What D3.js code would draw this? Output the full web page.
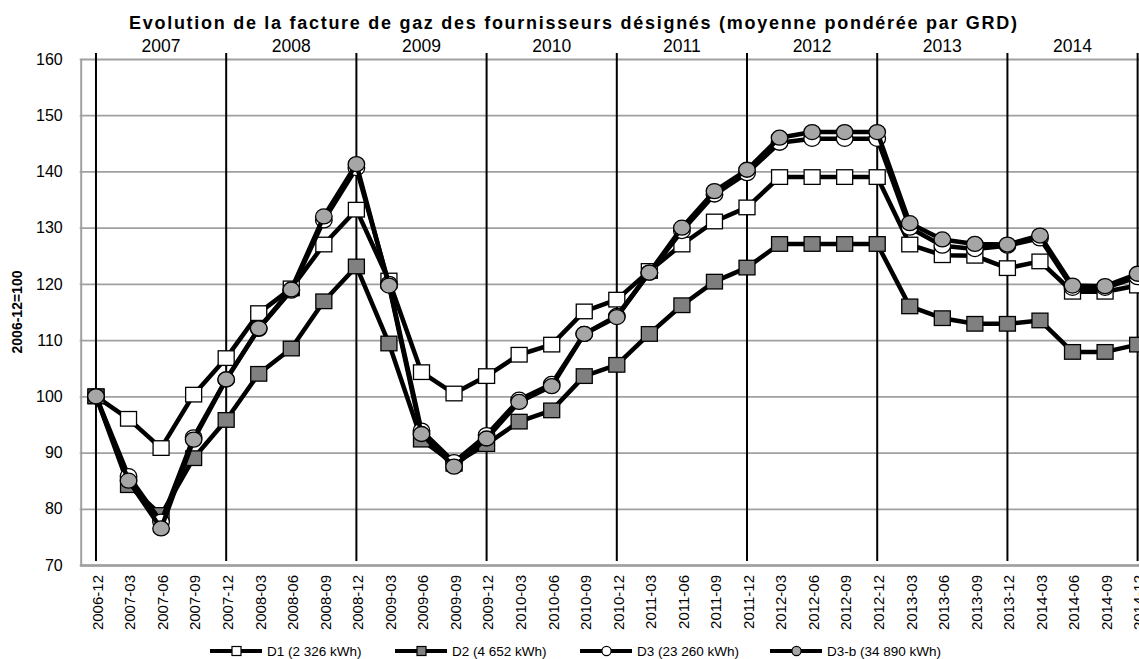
<!DOCTYPE html>
<html>
<head>
<meta charset="utf-8">
<script src="https://cdn.jsdelivr.net/npm/d3@7"></script>
<style>
  body { margin: 0; background: #fff; }
  svg { display: block; font-family: "Liberation Sans", Arial, sans-serif; }
</style>
</head>
<body>
<div id="chart"></div>
<script>
const quarters = ["2006-12",
  "2007-03","2007-06","2007-09","2007-12",
  "2008-03","2008-06","2008-09","2008-12",
  "2009-03","2009-06","2009-09","2009-12",
  "2010-03","2010-06","2010-09","2010-12",
  "2011-03","2011-06","2011-09","2011-12",
  "2012-03","2012-06","2012-09","2012-12",
  "2013-03","2013-06","2013-09","2013-12",
  "2014-03","2014-06","2014-09","2014-12"]
const years = ["2007","2008","2009","2010","2011","2012","2013","2014"]
const yTicks = [70, 80, 90, 100, 110, 120, 130, 140, 150, 160]

const d1  = [100, 96, 90.8, 100.3, 106.8, 114.8, 119.2, 127, 133.2, 120.6, 104.3, 100.5, 103.6, 107.4, 109.2, 115.1, 117.2,
             122.3, 127, 131.1, 133.6, 139, 139, 139, 139, 127, 125.1, 125, 122.8, 124, 118.6, 118.6, 119.7]
const d2  = [100, 84.2, 78.9, 89, 95.8, 104, 108.5, 116.9, 123.1, 109.4, 92.3, 88, 91.5, 95.5, 97.5, 103.6, 105.6,
             111.1, 116.2, 120.4, 122.9, 127.1, 127.1, 127.1, 127.1, 116, 113.9, 112.9, 112.9, 113.5, 107.9, 107.9, 109.2]
const d3v = [100, 85.8, 77.7, 92.7, 103, 112, 118.8, 131.3, 140.6, 120, 93.9, 88.3, 93.1, 99.4, 102.2, 111.1, 114.3,
             122, 129.4, 135.9, 139.7, 145.1, 145.8, 145.8, 145.8, 130, 126.8, 126.2, 126.8, 128.1, 119.3, 119.3, 121.2]
const d3b = [100, 85, 76.5, 92.3, 103, 112.1, 119, 132, 141.3, 119.7, 93.3, 87.5, 92.5, 99, 101.8, 111.1, 114.1,
             122, 130, 136.5, 140.3, 146, 147, 147, 147, 130.8, 127.9, 127.1, 127, 128.6, 119.7, 119.6, 121.8]

const seriesNames = ["D1 (2 326 kWh)", "D2 (4 652 kWh)", "D3 (23 260 kWh)", "D3-b (34 890 kWh)"]
const seriesValues = [d1, d2, d3v, d3b]
const markerShape = ["square", "square", "circle", "circle"]
const markerFill = ["#ffffff", "#808080", "#ffffff", "#a6a6a6"]

const width = 1139, height = 659
const plot = { left: 79.7, right: 1153.9, top: 59, bottom: 565 }

const svg = d3.select("#chart").append("svg")
  .attr("width", width).attr("height", height)

const x = d3.scalePoint().domain(quarters).range([plot.left, plot.right]).padding(0.5)
const y = d3.scaleLinear().domain([70, 160]).range([plot.bottom, plot.top])

// gridlines
svg.append("g")
  .attr("transform", `translate(${plot.left},0)`)
  .call(d3.axisLeft(y).tickValues(yTicks).tickSize(-(plot.right - plot.left)).tickFormat(""))
  .call(g => g.select(".domain").remove())
  .selectAll("line").attr("stroke", "#a0a0a0").attr("stroke-width", 1.8)

// left axis line + labels
svg.append("g")
  .attr("transform", `translate(${plot.left + 1},0)`)
  .call(d3.axisLeft(y).tickValues(yTicks).tickSize(0).tickPadding(18))
  .call(g => g.select(".domain").attr("stroke", "#a0a0a0").attr("stroke-width", 2))
  .selectAll("text").attr("font-size", 16).attr("fill", "#000")

// bottom axis
svg.append("g")
  .attr("transform", `translate(0,${plot.bottom})`)
  .call(d3.axisBottom(x).tickSize(0))
  .call(g => g.select(".domain").attr("stroke", "#a0a0a0").attr("stroke-width", 2.5))
  .selectAll("text")
  .attr("font-size", 15).attr("fill", "#000")
  .attr("transform", "rotate(-90)")
  .attr("text-anchor", "end")
  .attr("x", -10).attr("y", 0).attr("dy", "0.42em")

// year separators (every December)
const decembers = quarters.filter(q => q.endsWith("-12"))
svg.append("g").selectAll("line").data(decembers).join("line")
  .attr("x1", d => x(d)).attr("x2", d => x(d))
  .attr("y1", y(160) - 6).attr("y2", y(70) - 4)
  .attr("stroke", "#000").attr("stroke-width", 2)

svg.append("g").selectAll("text").data(years).join("text")
  .attr("x", d => (x((+d - 1) + "-12") + x(d + "-12")) / 2)
  .attr("y", 52)
  .attr("text-anchor", "middle")
  .attr("font-size", 17.5)
  .text(d => d)

// series
const line = d3.line().x((d, i) => x(quarters[i])).y(d => y(d))
seriesValues.forEach((vals, s) => {
  const g = svg.append("g")
  g.append("path").datum(vals)
    .attr("d", line).attr("fill", "none")
    .attr("stroke", "#000").attr("stroke-width", 4.5).attr("stroke-linejoin", "round")
  if (markerShape[s] === "square") {
    g.selectAll("rect").data(vals).join("rect")
      .attr("x", (d, i) => x(quarters[i]) - 8).attr("y", d => y(d) - 7.3)
      .attr("width", 16).attr("height", 14.6)
      .attr("fill", markerFill[s]).attr("stroke", "#000").attr("stroke-width", 1.3)
  } else {
    g.selectAll("ellipse").data(vals).join("ellipse")
      .attr("cx", (d, i) => x(quarters[i])).attr("cy", d => y(d))
      .attr("rx", 8.3).attr("ry", 7.5)
      .attr("fill", markerFill[s]).attr("stroke", "#000").attr("stroke-width", 1.3)
  }
})

// title
svg.append("text")
  .attr("x", 573).attr("y", 29)
  .attr("text-anchor", "middle")
  .attr("font-size", 18).attr("font-weight", "bold")
  .attr("textLength", 888).attr("lengthAdjust", "spacing")
  .text("Evolution de la facture de gaz des fournisseurs désignés (moyenne pondérée par GRD)")

// y-axis title
svg.append("text")
  .attr("transform", `translate(22,${(plot.top + plot.bottom) / 2}) rotate(-90)`)
  .attr("text-anchor", "middle")
  .attr("font-size", 14).attr("font-weight", "bold")
  .text("2006-12=100")

// legend
const legendX = [210, 395, 580, 770]
const legendY = 651
const lg = svg.append("g").selectAll("g").data(seriesNames).join("g")
  .attr("transform", (d, i) => `translate(${legendX[i]},${legendY})`)
lg.append("line").attr("x1", 0).attr("x2", 52)
  .attr("stroke", "#000").attr("stroke-width", 4)
lg.each(function(d, i) {
  const g = d3.select(this)
  if (markerShape[i] === "square") {
    g.append("rect").attr("x", 22).attr("y", -4.5).attr("width", 9).attr("height", 9)
      .attr("fill", markerFill[i]).attr("stroke", "#000").attr("stroke-width", 1.2)
  } else {
    g.append("circle").attr("cx", 26.5).attr("r", 4.6)
      .attr("fill", markerFill[i]).attr("stroke", "#000").attr("stroke-width", 1.2)
  }
})
lg.append("text").attr("x", 57).attr("dy", "0.35em")
  .attr("font-size", 13.5).text(d => d)
</script>
</body>
</html>
